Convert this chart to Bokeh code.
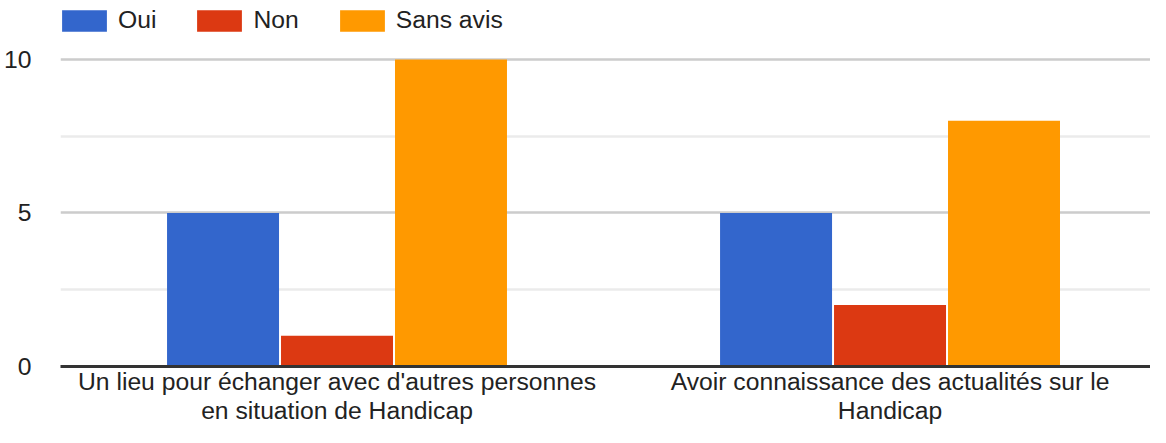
from bokeh.plotting import figure
from bokeh.models import Range1d, FixedTicker
from bokeh.embed import file_html
from bokeh.resources import INLINE

categories = ["Un lieu pour échanger avec d'autres personnes\nen situation de Handicap",
              "Avoir connaissance des actualités sur le\nHandicap"]
series_names = ["Oui", "Non", "Sans avis"]
oui = [5, 5]
non = [1, 2]
sans_avis = [10, 8]
y_ticks = [0, 5, 10]
y_minor = [2.5, 7.5]

colors = ["#3366cc", "#dc3912", "#ff9900"]
FONT = "Liberation Sans"
TEXT = "#222222"
FS = "24.7px"

xs = [i + 0.5 for i in range(len(categories))]

p = figure(width=1150, height=427, output_backend="svg", toolbar_location=None,
           x_range=Range1d(0, 1.971), y_range=Range1d(0, 11.92),
           min_border_left=60, min_border_right=0, min_border_top=0, min_border_bottom=0)
p.outline_line_color = None
p.background_fill_color = "white"
p.border_fill_color = "white"

offsets = [-0.2061, 0.0, 0.2061]
for vals, name, col, off in zip([oui, non, sans_avis], series_names, colors, offsets):
    p.vbar(x=[x + off for x in xs], top=vals, width=0.2025, bottom=0,
           fill_color=col, line_color=None, legend_label=name)

# y axis
p.yaxis.ticker = FixedTicker(ticks=y_ticks, minor_ticks=y_minor)
p.yaxis.axis_line_color = None
p.yaxis.major_tick_line_color = None
p.yaxis.minor_tick_line_color = None
p.yaxis.major_tick_out = 0
p.yaxis.major_tick_in = 0
p.yaxis.major_label_standoff = 25
p.yaxis.major_label_text_font = FONT
p.yaxis.major_label_text_font_size = FS
p.yaxis.major_label_text_color = TEXT

p.ygrid.ticker = FixedTicker(ticks=[5, 10], minor_ticks=y_minor)
p.ygrid.grid_line_color = "#cccccc"
p.ygrid.grid_line_width = 2.5
p.ygrid.minor_grid_line_color = "#ebebeb"
p.ygrid.minor_grid_line_width = 2.5
p.xgrid.grid_line_color = None

# x axis
p.xaxis.ticker = FixedTicker(ticks=xs)
p.xaxis.major_label_overrides = {x: c for x, c in zip(xs, categories)}
p.xaxis.axis_line_color = "#333333"
p.xaxis.axis_line_width = 3
p.xaxis.major_tick_line_color = None
p.xaxis.minor_tick_line_color = None
p.xaxis.major_tick_out = 0
p.xaxis.major_tick_in = 0
p.xaxis.major_label_standoff = 1
p.xaxis.major_label_text_font = FONT
p.xaxis.major_label_text_font_size = FS
p.xaxis.major_label_text_color = TEXT
p.xaxis.major_label_text_line_height = 1.1

# legend
lg = p.legend[0]
lg.location = (-4, 332)
lg.orientation = "horizontal"
lg.margin = 0
lg.padding = 0
lg.spacing = 35
lg.border_line_color = None
lg.background_fill_alpha = 0
lg.glyph_width = 56
lg.glyph_height = 27
lg.label_standoff = 6
lg.label_text_font = FONT
lg.label_text_font_size = FS
lg.label_text_color = TEXT
lg.label_height = 27

open("out.html", "w").write(file_html(p, INLINE))
